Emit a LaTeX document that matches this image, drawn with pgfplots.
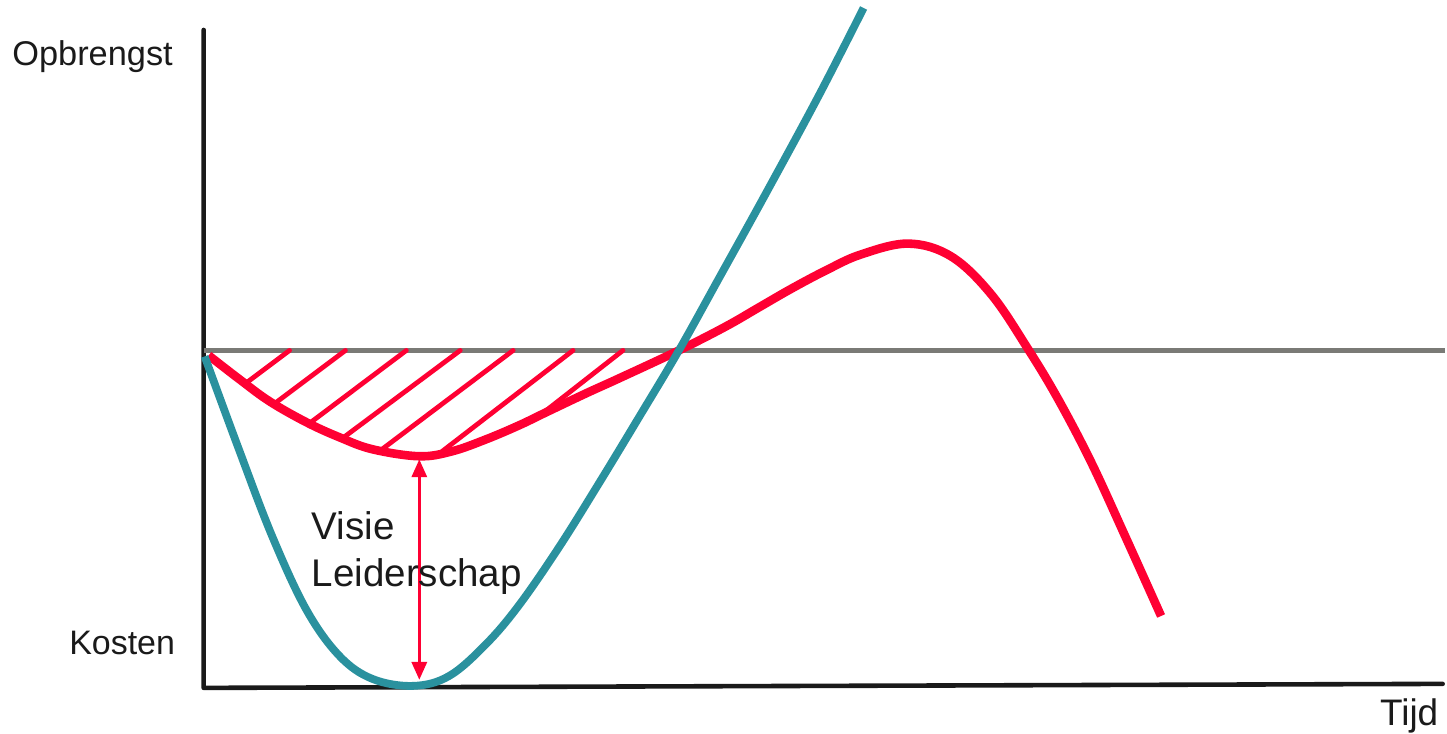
\documentclass[border=0pt]{standalone}
\usepackage{pgfplots}
\pgfplotsset{compat=1.18}
\usetikzlibrary{arrows.meta}
\usepackage{fontspec}
\setmainfont{Liberation Sans}
\definecolor{myred}{HTML}{FF0033}
\definecolor{myteal}{HTML}{2A919E}
\definecolor{mygrey}{HTML}{7A7A76}
\definecolor{myblack}{HTML}{1A1A1A}
\begin{document}
\begin{tikzpicture}
\begin{axis}[scale only axis, width=723.5pt, height=367.5pt,
  xmin=0, xmax=1447, ymin=0, ymax=735, y dir=reverse,
  axis lines=none, clip=false]
\path (rel axis cs:0,0) rectangle (rel axis cs:1,1);
% axes
\addplot[myblack, line width=2.3pt, line cap=round, line join=round] coordinates {(204,30) (204,689) (1445,685)};
% zero line
\addplot[mygrey, line width=2.4pt] coordinates {(204,351) (1447,351)};
% hatch lines
\addplot[myred, line width=2.4pt, line cap=round] coordinates {(290,351) (246,384)};
\addplot[myred, line width=2.4pt, line cap=round] coordinates {(346,351) (274,405)};
\addplot[myred, line width=2.4pt, line cap=round] coordinates {(407,351) (310,424)};
\addplot[myred, line width=2.4pt, line cap=round] coordinates {(461,351) (343,439)};
\addplot[myred, line width=2.4pt, line cap=round] coordinates {(514,351) (380,452)};
\addplot[myred, line width=2.4pt, line cap=round] coordinates {(574,351) (443,452)};
\addplot[myred, line width=2.4pt, line cap=round] coordinates {(624,351) (546,412)};
% red curve (opbrengst)
\addplot[myred, line width=4.3pt, smooth, tension=0.6, line cap=butt] coordinates {
(209,356) (240,380) (270,402) (307,423) (340,438) (373,450) (420,457)
(453,452) (487,440) (520,426) (547,413) (587,394) (620,379) (680,351)
(727,327) (760,308) (793,289) (827,271) (862,255) (910,244) (953,257)
(993,295) (1030,350) (1060,400) (1093,463) (1127,537) (1163,617)};
% teal curve (kosten)
\addplot[myteal, line width=3.9pt, smooth, tension=0.6, line cap=butt] coordinates {
(205,357) (240,452) (273,538) (307,611) (340,657) (373,680) (414,687)
(450,677) (487,645) (520,606) (560,548) (600,484) (640,418) (680,351)
(720,279) (767,194) (820,96) (865,8)};
% arrow
\addplot[myred, line width=1.7pt, {Triangle[length=9pt,width=7.5pt]}-{Triangle[length=9pt,width=7.5pt]}] coordinates {(420,460) (420,681)};
% labels
\node[anchor=base west, inner sep=0pt, font=\fontsize{17.2}{20}\selectfont, text=myblack] at (axis cs:12,66) {Opbrengst};
\node[anchor=base west, inner sep=0pt, font=\fontsize{17}{20}\selectfont, text=myblack] at (axis cs:69,656) {Kosten};
\node[anchor=base west, inner sep=0pt, font=\fontsize{18.5}{20}\selectfont, text=myblack] at (axis cs:1382,727) {Tijd};
\node[anchor=base west, inner sep=0pt, font=\fontsize{19.3}{22}\selectfont, text=myblack] at (axis cs:312,540) {Visie};
\node[anchor=base west, inner sep=0pt, font=\fontsize{19.3}{22}\selectfont, text=myblack] at (axis cs:312,587) {Leiderschap};
\end{axis}
\end{tikzpicture}
\end{document}
